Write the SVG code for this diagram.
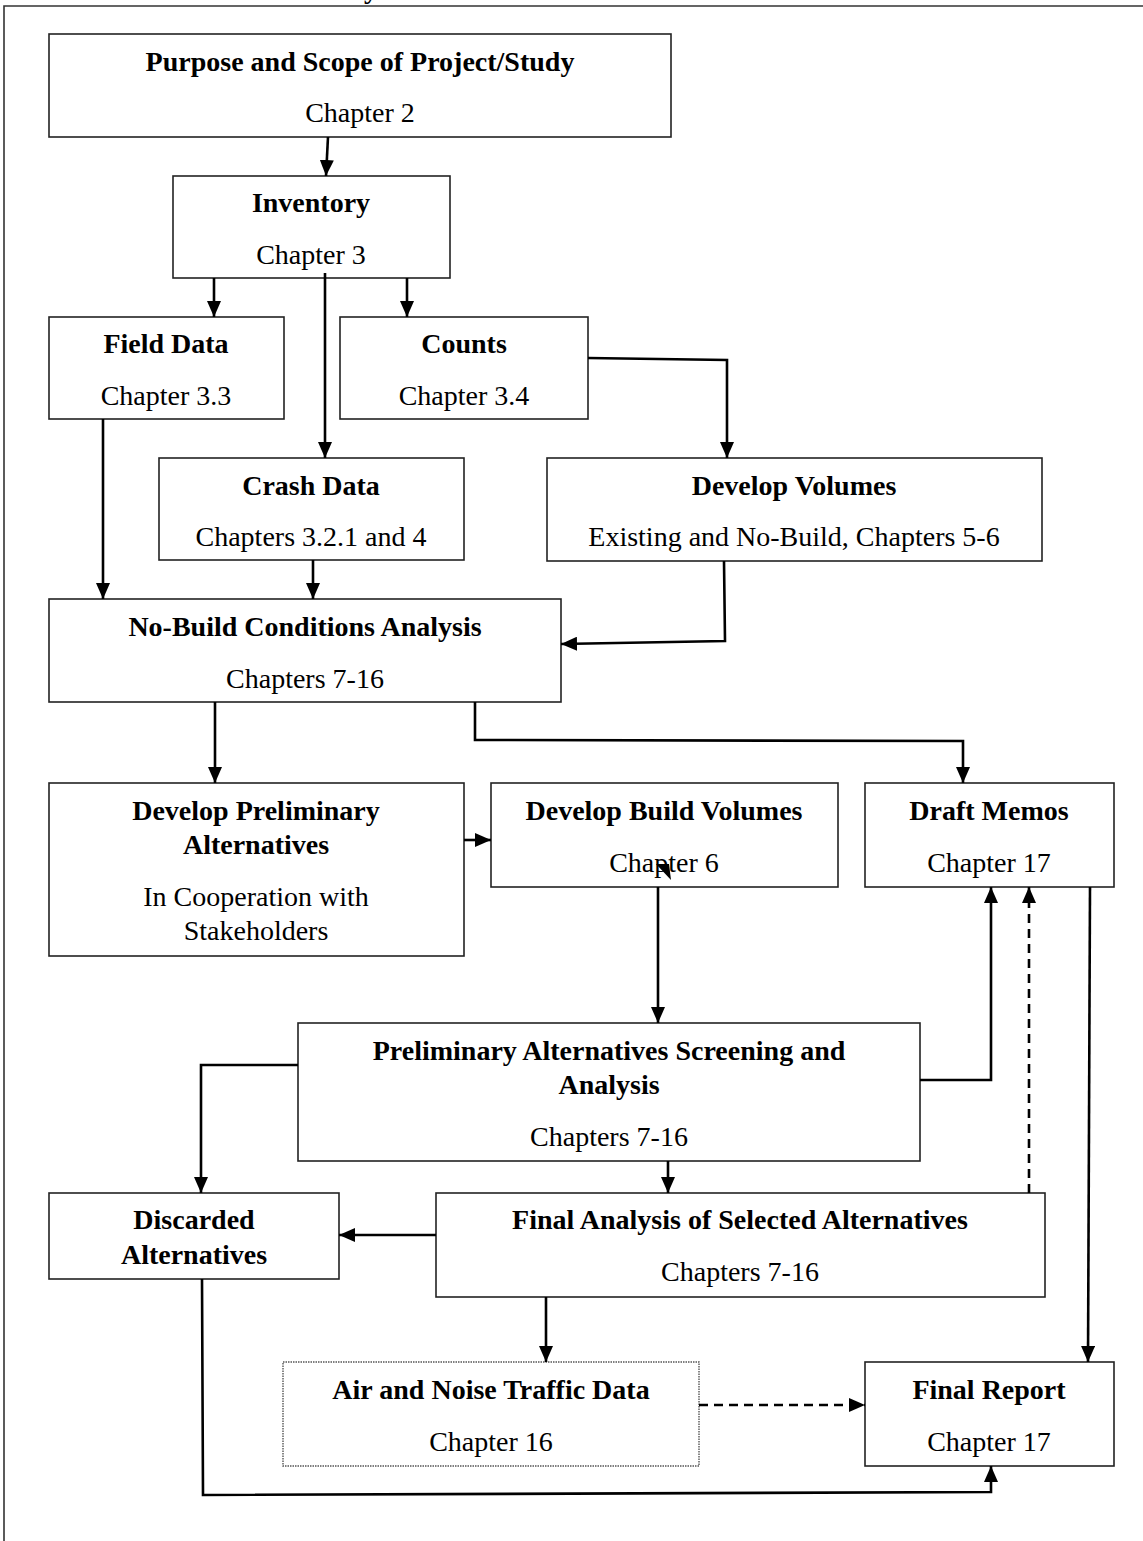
<svg xmlns="http://www.w3.org/2000/svg" width="1143" height="1541" viewBox="0 0 1143 1541">
<style>
.box{fill:#fff;stroke:#222;stroke-width:1.6}
.dot{fill:#fff;stroke:#555;stroke-width:1.4;stroke-dasharray:1.5 1}
.b{font-family:"Liberation Serif","Times New Roman",serif;font-weight:bold;font-size:28px;text-anchor:middle;fill:#000}
.r{font-family:"Liberation Serif","Times New Roman",serif;font-size:28px;text-anchor:middle;fill:#000}
.c{fill:none;stroke:#000;stroke-width:2.6}
.d{fill:none;stroke:#000;stroke-width:2.6;stroke-dasharray:9 6}
.frame{fill:none;stroke:#333;stroke-width:1.6}
</style>
<defs>
<marker id="ah" viewBox="0 0 16 14" refX="16" refY="7" markerWidth="16" markerHeight="14" markerUnits="userSpaceOnUse" orient="auto">
<path d="M0,0 L16,7 L0,14 Z" fill="#000"/>
</marker>
</defs>
<rect width="1143" height="1541" fill="#fff"/>
<path class="frame" d="M1143,6 H4 V1541"/>
<text class="b" x="371" y="-2">y</text>

<g id="n-purpose"><rect class="box" x="49" y="34" width="622" height="103"/><text class="b" x="360" y="71">Purpose and Scope of Project/Study</text><text class="r" x="360" y="122">Chapter 2</text></g>
<g id="n-inventory"><rect class="box" x="173" y="176" width="277" height="102"/><text class="b" x="311" y="212">Inventory</text><text class="r" x="311" y="264">Chapter 3</text></g>
<g id="n-field"><rect class="box" x="49" y="317" width="235" height="102"/><text class="b" x="166" y="353">Field Data</text><text class="r" x="166" y="405">Chapter 3.3</text></g>
<g id="n-counts"><rect class="box" x="340" y="317" width="248" height="102"/><text class="b" x="464" y="353">Counts</text><text class="r" x="464" y="405">Chapter 3.4</text></g>
<g id="n-crash"><rect class="box" x="159" y="458" width="305" height="102"/><text class="b" x="311" y="495">Crash Data</text><text class="r" x="311" y="546">Chapters 3.2.1 and 4</text></g>
<g id="n-volumes"><rect class="box" x="547" y="458" width="495" height="103"/><text class="b" x="794" y="495">Develop Volumes</text><text class="r" x="794" y="546">Existing and No-Build, Chapters 5-6</text></g>
<g id="n-nobuild"><rect class="box" x="49" y="599" width="512" height="103"/><text class="b" x="305" y="636">No-Build Conditions Analysis</text><text class="r" x="305" y="688">Chapters 7-16</text></g>
<g id="n-prelim"><rect class="box" x="49" y="783" width="415" height="173"/><text class="b" x="256" y="820">Develop Preliminary</text><text class="b" x="256" y="854">Alternatives</text><text class="r" x="256" y="906">In Cooperation with</text><text class="r" x="256" y="940">Stakeholders</text></g>
<g id="n-build"><rect class="box" x="491" y="783" width="347" height="104"/><text class="b" x="664" y="820">Develop Build Volumes</text><text class="r" x="664" y="872">Chapter 6</text></g>
<g id="n-memos"><rect class="box" x="865" y="783" width="249" height="104"/><text class="b" x="989" y="820">Draft Memos</text><text class="r" x="989" y="872">Chapter 17</text></g>
<g id="n-screening"><rect class="box" x="298" y="1023" width="622" height="138"/><text class="b" x="609" y="1060">Preliminary Alternatives Screening and</text><text class="b" x="609" y="1094">Analysis</text><text class="r" x="609" y="1146">Chapters 7-16</text></g>
<g id="n-discarded"><rect class="box" x="49" y="1193" width="290" height="86"/><text class="b" x="194" y="1229">Discarded</text><text class="b" x="194" y="1264">Alternatives</text></g>
<g id="n-final"><rect class="box" x="436" y="1193" width="609" height="104"/><text class="b" x="740" y="1229">Final Analysis of Selected Alternatives</text><text class="r" x="740" y="1281">Chapters 7-16</text></g>
<g id="n-air"><rect class="dot" x="283" y="1362" width="416" height="104"/><text class="b" x="491" y="1399">Air and Noise Traffic Data</text><text class="r" x="491" y="1451">Chapter 16</text></g>
<g id="n-report"><rect class="box" x="865" y="1362" width="249" height="104"/><text class="b" x="989" y="1399">Final Report</text><text class="r" x="989" y="1451">Chapter 17</text></g>

<g id="connectors">
<path class="c" d="M328,137 L326,176" marker-end="url(#ah)"/>
<path class="c" d="M214,278 V317" marker-end="url(#ah)"/>
<path class="c" d="M407,278 V317" marker-end="url(#ah)"/>
<path class="c" d="M325,273 V458" marker-end="url(#ah)"/>
<path class="c" d="M588,358 L727,360 V458" marker-end="url(#ah)"/>
<path class="c" d="M103,419 V599" marker-end="url(#ah)"/>
<path class="c" d="M313,560 V599" marker-end="url(#ah)"/>
<path class="c" d="M724,561 L725,641 L561,644" marker-end="url(#ah)"/>
<path class="c" d="M215,702 V783" marker-end="url(#ah)"/>
<path class="c" d="M475,702 V740 L963,741 V783" marker-end="url(#ah)"/>
<path class="c" d="M464,840 H491" marker-end="url(#ah)"/>
<polygon points="656,864 669,864 671,880" fill="#000"/>
<path class="c" d="M658,887 V1023" marker-end="url(#ah)"/>
<path class="c" d="M920,1080 L991,1080 V887" marker-end="url(#ah)"/>
<path class="c" d="M298,1065 H201 V1193" marker-end="url(#ah)"/>
<path class="c" d="M668,1161 V1193" marker-end="url(#ah)"/>
<path class="c" d="M436,1235 H339" marker-end="url(#ah)"/>
<path class="d" d="M1029,1193 V887" marker-end="url(#ah)"/>
<path class="c" d="M1090,887 L1088,1362" marker-end="url(#ah)"/>
<path class="c" d="M546,1297 V1362" marker-end="url(#ah)"/>
<path class="d" d="M699,1405 H865" marker-end="url(#ah)"/>
<path class="c" d="M202,1279 L203,1495 L991,1492 V1466" marker-end="url(#ah)"/>
</g>
</svg>
